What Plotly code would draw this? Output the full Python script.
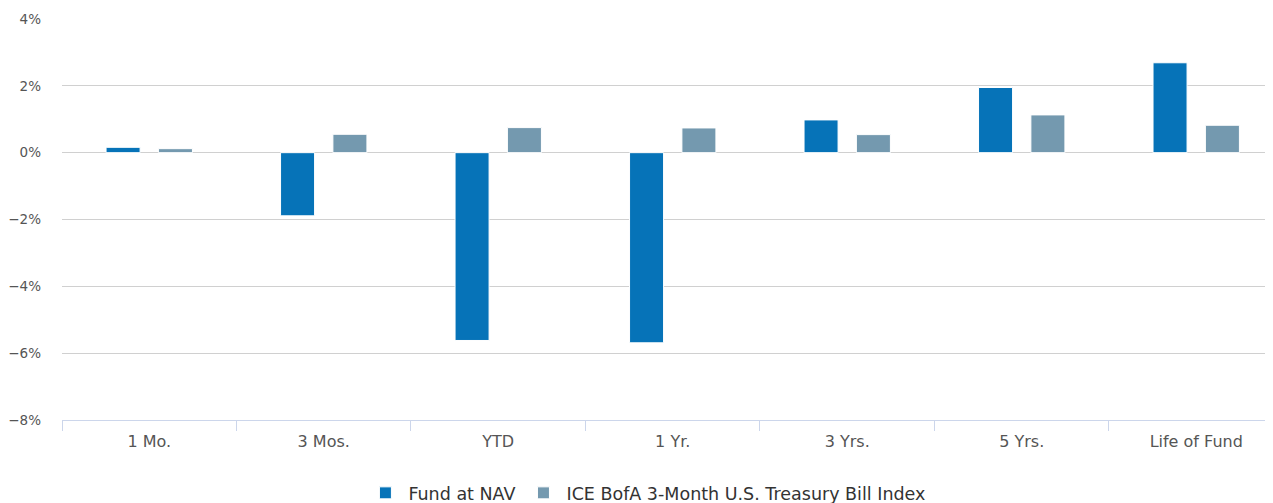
import plotly.graph_objects as go

categories = ["1 Mo.", "3 Mos.", "YTD", "1 Yr.", "3 Yrs.", "5 Yrs.", "Life of Fund"]
fund_nav = [0.16, -1.89, -5.62, -5.69, 0.98, 1.95, 2.69]
tbill_index = [0.12, 0.55, 0.75, 0.74, 0.54, 1.13, 0.82]
series_names = ["Fund at NAV", "ICE BofA 3-Month U.S. Treasury Bill Index"]
y_ticks = [-8, -6, -4, -2, 0, 2, 4]
y_ticktext = [("\u2212" if v < 0 else "") + f"{abs(v)}%" for v in y_ticks]

FONT = "DejaVu Sans"

fig = go.Figure()
fig.add_trace(go.Bar(x=categories, y=fund_nav, name=series_names[0],
                     marker=dict(color="#0673b8", line=dict(color="white", width=1))))
fig.add_trace(go.Bar(x=categories, y=tbill_index, name=series_names[1],
                     marker=dict(color="#7499af", line=dict(color="white", width=1))))

# page body has an 8px margin, so the figure is sized/positioned to compensate
fig.update_layout(
    width=1265, height=495,
    margin=dict(l=54, r=0, t=11, b=83, autoexpand=False),
    paper_bgcolor="white", plot_bgcolor="white",
    barmode="group", bargap=0.4, bargroupgap=0.35,
    font=dict(family=FONT, size=14, color="#555555"),
    showlegend=True,
    legend=dict(orientation="h", x=0.483, xanchor="center", y=-0.182, yanchor="middle",
                font=dict(family=FONT, size=17.5, color="#333333"),
                itemwidth=36, traceorder="normal"),
    xaxis=dict(type="category", range=[-0.5, 6.44], showgrid=False, automargin=False,
               showline=True, linecolor="#ccd6eb", linewidth=1,
               ticks="outside", tickson="boundaries", ticklen=10, tickcolor="#ccd6eb",
               ticklabelstandoff=7,
               tickfont=dict(family=FONT, size=16, color="#555555"), fixedrange=True),
    yaxis=dict(range=[-8, 4], tickmode="array", tickvals=y_ticks, ticktext=y_ticktext,
               automargin=False,
               showgrid=True, gridcolor="#d0d0d0", gridwidth=1,
               zeroline=True, zerolinecolor="#d0d0d0", zerolinewidth=1,
               showline=False, ticks="", ticklabelstandoff=20,
               tickfont=dict(family=FONT, size=13.5, color="#555555"), fixedrange=True),
)

fig.write_html("out.html")
